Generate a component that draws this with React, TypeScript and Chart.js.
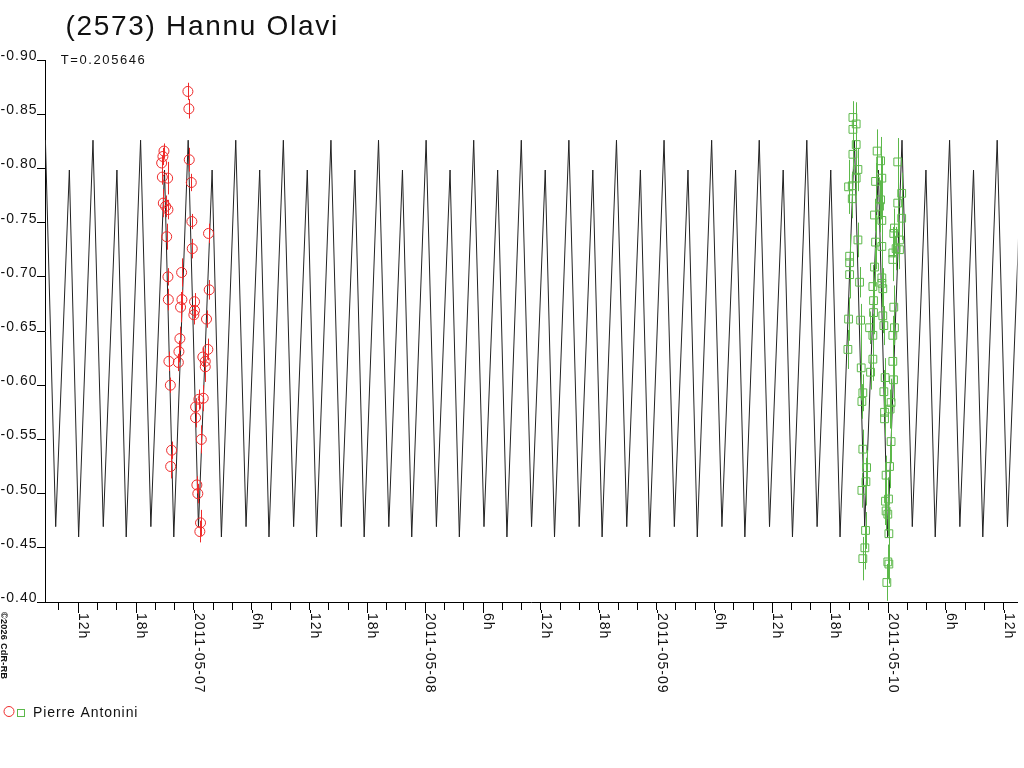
import React, { useEffect, useRef } from 'react';
import { Chart, registerables } from 'chart.js';

Chart.register(...registerables);
Chart.defaults.font.family = "'Liberation Sans', Arial, sans-serif";

// time axis is in hours counted from 2011-05-07 0h UT
const xMinH = -15.44;
const xMaxH = 85.42;
const dayLabels = ['2011-05-06', '2011-05-07', '2011-05-08', '2011-05-09', '2011-05-10', '2011-05-11'];

const titleText = '(2573) Hannu Olavi';
const periodDays = 0.205646;
const observer = 'Pierre Antonini';

// one period of the model light curve, phase from a bright maximum
const curveEpochH = 9.28;
const curvePhase = [0, 0.216, 0.503, 0.698];
const curveMag = [-0.826, -0.4695, -0.7985, -0.46];

// session 1 (red circles)
const redTime = [
  -0.62, -0.52, -3.1, -3.21, -3.34, -0.48, -3.27, -2.72, -0.27, -3.17, -2.93, -2.69, -0.21, -2.82, 1.52, -0.17,
  -2.69, -1.27, 1.59, -2.65, -1.24, -1.38, 0.07, 0.07, 0.0, 1.31, -1.45, -1.55, -2.59, -1.61, 1.45, 0.93,
  1.18, 1.18, -2.44, 0.97, 0.52, 0.18, 0.18, 0.77, -2.31, -2.41, 0.31, 0.41, 0.69, 0.62,
];
const redMag = [
  -0.871, -0.855, -0.816, -0.811, -0.805, -0.808, -0.792, -0.791, -0.787, -0.768, -0.765, -0.762, -0.751, -0.737, -0.74, -0.726,
  -0.7, -0.704, -0.688, -0.679, -0.679, -0.672, -0.677, -0.669, -0.665, -0.661, -0.643, -0.631, -0.622, -0.621, -0.633, -0.626,
  -0.622, -0.617, -0.6, -0.588, -0.587, -0.58, -0.57, -0.55, -0.54, -0.525, -0.508, -0.5, -0.473, -0.465,
];
const redErr = [
  0.008, 0.009, 0.007, 0.008, 0.007, 0.011, 0.007, 0.015, 0.008, 0.013, 0.01, 0.009, 0.007, 0.012, 0.009, 0.009,
  0.008, 0.013, 0.009, 0.01, 0.009, 0.014, 0.008, 0.007, 0.009, 0.008, 0.011, 0.01, 0.009, 0.008, 0.01, 0.009,
  0.012, 0.014, 0.007, 0.012, 0.009, 0.008, 0.009, 0.013, 0.008, 0.011, 0.008, 0.009, 0.012, 0.01,
];

// session 2 (green squares)
const greenTime = [
  68.35, 68.69, 68.35, 68.69, 68.35, 68.87, 68.69, 67.9, 68.28, 68.28, 70.86, 71.22, 70.7, 71.35, 71.22, 71.11,
  70.59, 71.35, 73.0, 73.41, 73.0, 73.41, 72.66, 72.59, 73.18, 72.83, 72.49, 73.18, 72.49, 68.87, 68.01, 68.01,
  68.01, 69.04, 70.7, 71.35, 70.59, 70.42, 71.35, 71.35, 71.45, 70.49, 70.49, 71.45, 70.08, 70.42, 71.56, 72.59,
  72.66, 72.49, 67.9, 69.15, 67.83, 69.21, 70.42, 70.18, 72.49, 71.69, 72.56, 69.38, 69.28, 71.56, 72.31, 72.21,
  71.63, 71.63, 69.38, 72.31, 69.77, 72.15, 71.79, 69.7, 69.28, 72.04, 71.73, 71.79, 71.97, 69.66, 72.08, 69.59,
  69.38, 71.97, 72.08, 71.87,
];
const greenMag = [
  -0.847, -0.841, -0.836, -0.822, -0.813, -0.799, -0.791, -0.783, -0.784, -0.772, -0.816, -0.807, -0.788, -0.791, -0.771, -0.765,
  -0.757, -0.752, -0.806, -0.777, -0.768, -0.754, -0.745, -0.74, -0.734, -0.726, -0.722, -0.725, -0.716, -0.734, -0.719, -0.713,
  -0.702, -0.695, -0.732, -0.728, -0.709, -0.691, -0.699, -0.694, -0.689, -0.678, -0.667, -0.664, -0.653, -0.646, -0.655, -0.672,
  -0.653, -0.646, -0.661, -0.66, -0.633, -0.616, -0.624, -0.612, -0.622, -0.607, -0.605, -0.593, -0.585, -0.594, -0.584, -0.578,
  -0.575, -0.569, -0.541, -0.548, -0.524, -0.525, -0.517, -0.511, -0.503, -0.495, -0.493, -0.484, -0.481, -0.466, -0.463, -0.45,
  -0.44, -0.437, -0.435, -0.418,
];
const greenErr = [
  0.015, 0.02, 0.012, 0.018, 0.014, 0.02, 0.016, 0.025, 0.013, 0.018, 0.02, 0.022, 0.017, 0.02, 0.018, 0.024,
  0.015, 0.02, 0.022, 0.019, 0.025, 0.02, 0.018, 0.022, 0.016, 0.02, 0.024, 0.018, 0.02, 0.016, 0.02, 0.017,
  0.022, 0.014, 0.025, 0.02, 0.018, 0.02, 0.016, 0.022, 0.019, 0.018, 0.02, 0.016, 0.015, 0.02, 0.018, 0.02,
  0.016, 0.018, 0.02, 0.015, 0.018, 0.03, 0.02, 0.016, 0.022, 0.018, 0.02, 0.017, 0.016, 0.02, 0.022, 0.018,
  0.02, 0.016, 0.018, 0.02, 0.016, 0.02, 0.018, 0.022, 0.016, 0.02, 0.022, 0.018, 0.02, 0.017, 0.024, 0.02,
  0.02, 0.016, 0.018, 0.017,
];

const RED = '#ee2a2a';
const GREEN = '#5cb84a';
const FONT = "'Liberation Sans', Arial, sans-serif";

const tickLabel = (v: number) => {
  const hv = Math.round(v);
  const h = ((hv % 24) + 24) % 24;
  if (h === 0) return dayLabels[hv / 24 + 1] ?? '';
  if (h % 6 === 0) return `${h}h`;
  return '';
};

const setSpacing = (ctx: any, px: number) => {
  if ('letterSpacing' in ctx) ctx.letterSpacing = `${px}px`;
};

const overlayPlugin = {
  id: 'overlay',
  afterDatasetsDraw(chart: any) {
    const { ctx } = chart;
    const x = chart.scales.x;
    const y = chart.scales.y;
    const bars = (times: number[], mags: number[], errs: number[], color: string) => {
      ctx.save();
      ctx.strokeStyle = color;
      ctx.lineWidth = 1;
      ctx.beginPath();
      times.forEach((t, i) => {
        const px = Math.round(x.getPixelForValue(t)) + 0.5;
        ctx.moveTo(px, y.getPixelForValue(mags[i] - errs[i]));
        ctx.lineTo(px, y.getPixelForValue(mags[i] + errs[i]));
      });
      ctx.stroke();
      ctx.restore();
    };
    bars(redTime, redMag, redErr, RED);
    bars(greenTime, greenMag, greenErr, GREEN);
  },
  afterDraw(chart: any) {
    const { ctx } = chart;
    const x = chart.scales.x;
    const y = chart.scales.y;
    const bottom = chart.chartArea.bottom;
    ctx.save();
    ctx.fillStyle = '#111';
    ctx.textAlign = 'left';
    ctx.textBaseline = 'alphabetic';

    // title and period
    ctx.font = `28px ${FONT}`;
    setSpacing(ctx, 1.7);
    ctx.fillText(titleText, 65.5, 35);
    ctx.font = `13px ${FONT}`;
    setSpacing(ctx, 1.6);
    ctx.fillText(`T=${periodDays}`, 60.7, 64);

    // y tick labels, sitting on their tick
    ctx.font = `14px ${FONT}`;
    setSpacing(ctx, 1);
    ctx.textAlign = 'right';
    y.ticks.forEach((tk: any) => {
      const py = Math.round(y.getPixelForValue(tk.value));
      ctx.fillText(Number(tk.value).toFixed(2), 37.5, py);
    });
    ctx.textAlign = 'left';

    // x tick labels, rotated clockwise, and longer major ticks
    ctx.strokeStyle = '#000';
    ctx.lineWidth = 1;
    x.ticks.forEach((tk: any) => {
      const label = tickLabel(tk.value);
      if (!label) return;
      const px = Math.round(x.getPixelForValue(tk.value));
      ctx.beginPath();
      ctx.moveTo(px + 0.5, bottom + 8);
      ctx.lineTo(px + 0.5, bottom + 11);
      ctx.stroke();
      ctx.save();
      ctx.translate(px + 0.5, bottom + 11);
      ctx.rotate(Math.PI / 2);
      ctx.fillText(label, 0, 0);
      ctx.restore();
    });

    // copyright
    ctx.save();
    ctx.font = `bold 9px ${FONT}`;
    setSpacing(ctx, 0.3);
    ctx.translate(0.5, 612);
    ctx.rotate(Math.PI / 2);
    ctx.fillText('\u00a92026 CdR-RB', 0, 0);
    ctx.restore();

    // legend
    ctx.lineWidth = 1;
    ctx.strokeStyle = RED;
    ctx.beginPath();
    ctx.arc(9, 711.5, 5, 0, Math.PI * 2);
    ctx.stroke();
    ctx.strokeStyle = GREEN;
    ctx.strokeRect(17.5, 709.5, 7, 7);
    ctx.font = `14px ${FONT}`;
    setSpacing(ctx, 0.9);
    ctx.fillText(observer, 33, 717);
    ctx.restore();
  },
};

export default function App() {
  const canvasRef = useRef<HTMLCanvasElement>(null);
  const chartRef = useRef<Chart | null>(null);

  useEffect(() => {
    document.body.style.margin = '0';
    const ctx = canvasRef.current?.getContext('2d');
    if (!ctx) return;
    if (chartRef.current) chartRef.current.destroy();

    const periodH = periodDays * 24;
    const curve: { x: number; y: number }[] = [];
    const kStart = Math.floor((xMinH - curveEpochH) / periodH) - 1;
    const kEnd = Math.ceil((xMaxH - curveEpochH) / periodH) + 1;
    for (let k = kStart; k <= kEnd; k++) {
      curvePhase.forEach((p, i) => curve.push({ x: curveEpochH + (k + p) * periodH, y: curveMag[i] }));
    }

    chartRef.current = new Chart(ctx, {
      type: 'scatter',
      data: {
        datasets: [
          {
            label: 'red',
            data: redTime.map((t, i) => ({ x: t, y: redMag[i] })),
            pointStyle: 'circle',
            pointRadius: 5,
            borderColor: RED,
            backgroundColor: 'transparent',
            borderWidth: 1,
          },
          {
            label: 'green',
            data: greenTime.map((t, i) => ({ x: t, y: greenMag[i] })),
            pointStyle: 'rect',
            pointRadius: 5.5,
            borderColor: GREEN,
            backgroundColor: 'transparent',
            borderWidth: 1,
          },
          {
            label: 'model',
            data: curve,
            showLine: true,
            pointRadius: 0,
            borderColor: '#222',
            borderWidth: 1,
            tension: 0,
          },
        ],
      },
      options: {
        responsive: true,
        maintainAspectRatio: false,
        animation: false,
        events: [],
        layout: { padding: { top: 60, right: 4, left: 0, bottom: 0 } },
        plugins: {
          legend: { display: false },
          tooltip: { enabled: false },
        },
        scales: {
          x: {
            type: 'linear',
            min: xMinH,
            max: xMaxH,
            afterFit: (s: any) => {
              s.height = 166;
            },
            border: { display: true, color: '#000', width: 1 },
            grid: { drawOnChartArea: false, drawTicks: true, tickLength: 8, color: '#000' },
            ticks: { display: false, stepSize: 2, includeBounds: false },
          },
          y: {
            type: 'linear',
            reverse: true,
            min: -0.9,
            max: -0.4,
            afterFit: (s: any) => {
              s.width = 45;
            },
            border: { display: true, color: '#000', width: 1 },
            grid: { drawOnChartArea: false, drawTicks: true, tickLength: 8, color: '#000' },
            ticks: { display: false, stepSize: 0.05 },
          },
        },
      },
      plugins: [overlayPlugin],
    });

    return () => {
      if (chartRef.current) {
        chartRef.current.destroy();
        chartRef.current = null;
      }
    };
  }, []);

  return (
    <div style={{ position: 'relative', width: 1024, height: 768, background: '#fff' }}>
      <canvas ref={canvasRef} />
    </div>
  );
}
